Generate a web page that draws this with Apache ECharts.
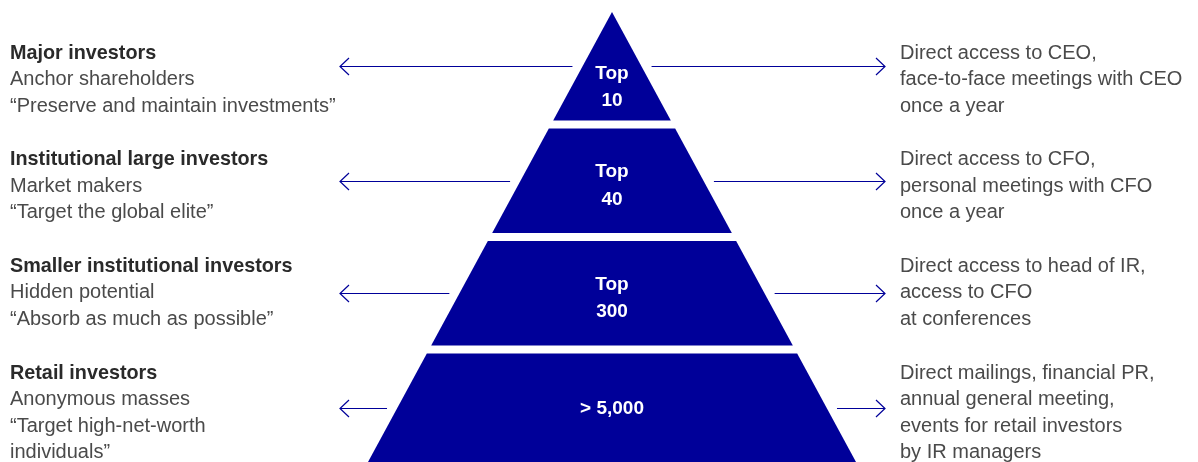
<!DOCTYPE html>
<html><head><meta charset="utf-8">
<script src="https://cdn.jsdelivr.net/npm/echarts@6/dist/echarts.min.js"></script>
<style>html,body{margin:0;padding:0;background:#fff}#c{width:1198px;height:462px}</style>
</head><body><div id="c"></div>
<script>
// ---- data ----
const tierLabels = ['Top\n10', 'Top\n40', 'Top\n300', '> 5,000'];
const tierLevels = [1, 2, 3, 4]; // pyramid level at the bottom edge of each tier
const investorTitles = ['Major investors', 'Institutional large investors', 'Smaller institutional investors', 'Retail investors'];
const investorTypes = ['Anchor shareholders', 'Market makers', 'Hidden potential', 'Anonymous masses'];
const investorMottos = ['“Preserve and maintain investments”', '“Target the global elite”', '“Absorb as much as possible”', '“Target high-net-worth\nindividuals”'];
const irMeasures = [
  'Direct access to CEO,\nface-to-face meetings with CEO\nonce a year',
  'Direct access to CFO,\npersonal meetings with CFO\nonce a year',
  'Direct access to head of IR,\naccess to CFO\nat conferences',
  'Direct mailings, financial PR,\nannual general meeting,\nevents for retail investors\nby IR managers'
];

// ---- layout / style ----
const BLUE = '#000099';
const FONT = '"Liberation Sans", Arial, sans-serif';
const GAP = 8;
const LEFT_TIP = 340, RIGHT_TIP = 885, ARROW_PAD = 10;
const TEXT_LEFT_X = 10, TEXT_RIGHT_X = 900, TEXT_TOP = 40, TEXT_STEP = 106.6, LINE_H = 26.5;
const N = tierLevels.length;

function wrap(tag, s) { return s.split('\n').map(l => '{' + tag + '|' + l + '}').join('\n'); }

const chart = echarts.init(document.getElementById('c'));
chart.setOption({
  animation: false,
  grid: { left: 368, right: 342, top: 12, bottom: -2 },
  xAxis: { type: 'value', min: -1, max: 1, show: false },
  yAxis: { type: 'value', min: 0, max: N, inverse: true, show: false },
  series: [{
    type: 'custom',
    clip: false,
    data: tierLevels.map(v => [0, v]),
    renderItem: function (params, api) {
      const i = params.dataIndex;
      const lvl = api.value(1);
      const apex = api.coord([0, 0]);
      const baseL = api.coord([-1, N]);
      const cx = apex[0];
      const half = py => (py - apex[1]) / (baseL[1] - apex[1]) * (cx - baseL[0]);
      const yT = api.coord([0, lvl - 1])[1] + (i > 0 ? GAP / 2 : 0);
      const yB = api.coord([0, lvl])[1] - (i < N - 1 ? GAP / 2 : 0);
      const hT = half(yT), hB = half(yB);
      const ay = Math.round((yT + yB) / 2) + 0.5;
      const ha = half(ay);
      const multi = tierLabels[i].indexOf('\n') >= 0;
      const ly = (yT + yB) / 2 + (multi ? 5 : 1) + (i === 0 ? (yB - yT) / 6 - 2 : 0);
      const lineStyle = { stroke: BLUE, lineWidth: 1.2, fill: null };
      const textTop = TEXT_TOP + i * TEXT_STEP;
      return {
        type: 'group',
        children: [
          { type: 'polygon', shape: { points: [[cx - hT, yT], [cx + hT, yT], [cx + hB, yB], [cx - hB, yB]] }, style: { fill: BLUE } },
          { type: 'text', style: { text: tierLabels[i], x: cx, y: ly, align: 'center', verticalAlign: 'middle', fill: '#fff', font: 'bold 19px ' + FONT, lineHeight: 27.5 } },
          { type: 'polyline', shape: { points: [[LEFT_TIP, ay], [cx - ha - ARROW_PAD, ay]] }, style: lineStyle },
          { type: 'polyline', shape: { points: [[LEFT_TIP + 9, ay - 8.5], [LEFT_TIP, ay], [LEFT_TIP + 9, ay + 8.5]] }, style: lineStyle },
          { type: 'polyline', shape: { points: [[cx + ha + ARROW_PAD, ay], [RIGHT_TIP, ay]] }, style: lineStyle },
          { type: 'polyline', shape: { points: [[RIGHT_TIP - 9, ay - 8.5], [RIGHT_TIP, ay], [RIGHT_TIP - 9, ay + 8.5]] }, style: lineStyle },
          { type: 'text', style: {
              text: wrap('b', investorTitles[i]) + '\n' + wrap('n', investorTypes[i]) + '\n' + wrap('n', investorMottos[i]),
              x: TEXT_LEFT_X, y: textTop, align: 'left', verticalAlign: 'top',
              rich: {
                b: { fontFamily: FONT, fontSize: 19.8, fontWeight: 'bold', fill: '#2a2a2a', lineHeight: LINE_H },
                n: { fontFamily: FONT, fontSize: 20, fill: '#4a4a4a', lineHeight: LINE_H }
              } } },
          { type: 'text', style: {
              text: irMeasures[i], x: TEXT_RIGHT_X, y: textTop, align: 'left', verticalAlign: 'top',
              font: '20px ' + FONT, fill: '#4a4a4a', lineHeight: LINE_H } }
        ]
      };
    }
  }]
});
</script></body></html>
